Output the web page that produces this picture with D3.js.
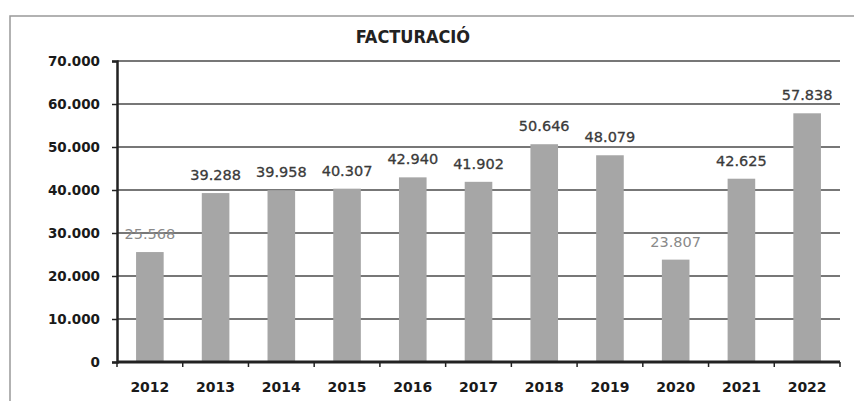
<!DOCTYPE html>
<html>
<head>
<meta charset="utf-8">
<script src="https://cdn.jsdelivr.net/npm/d3@7"></script>
<style>
  body { margin: 0; background: #fff; }
  svg { display: block; }
</style>
</head>
<body>
<svg class="chart" width="854" height="401"></svg>
<script>
const years = ['2012', '2013', '2014', '2015', '2016', '2017', '2018', '2019', '2020', '2021', '2022'];
const billing = [25568, 39288, 39958, 40307, 42940, 41902, 50646, 48079, 23807, 42625, 57838];
const yTicks = [0, 10000, 20000, 30000, 40000, 50000, 60000, 70000];
const chartTitle = 'FACTURACIÓ';
const lightLabels = ['2012', '2020'];

const svg = d3.select('.chart');
const plotLeft = 117, plotRight = 840, plotTop = 61, plotBottom = 362;

const fmt = d => d3.format(',')(d).replace(/,/g, '.');

const x = d3.scaleBand()
    .domain(years)
    .range([plotLeft, plotRight])
    .paddingInner(0.58)
    .paddingOuter(0.29);

const y = d3.scaleLinear()
    .domain([0, 70000])
    .range([plotBottom, plotTop]);

// outer frame (scanned border)
svg.append('path')
    .attr('d', `M10,401 L10,16 L854,16`)
    .attr('fill', 'none')
    .attr('stroke', '#999')
    .attr('stroke-width', 1.5);

svg.append('text')
    .attr('x', 413)
    .attr('y', 43)
    .attr('text-anchor', 'middle')
    .attr('font-family', 'DejaVu Sans Condensed, DejaVu Sans')
    .attr('font-weight', 'bold')
    .attr('font-size', 18)
    .attr('fill', '#222')
    .text(chartTitle);

// gridlines
svg.append('g')
    .selectAll('line')
    .data(yTicks.filter(d => d > 0))
    .enter().append('line')
    .attr('x1', plotLeft)
    .attr('x2', plotRight)
    .attr('y1', d => y(d))
    .attr('y2', d => y(d))
    .attr('stroke', '#4a4a4a')
    .attr('stroke-width', 1.4);

// bars
svg.append('g')
    .selectAll('rect')
    .data(billing)
    .enter().append('rect')
    .attr('x', (d, i) => x(years[i]))
    .attr('y', d => y(d))
    .attr('width', x.bandwidth())
    .attr('height', d => y(0) - y(d))
    .attr('fill', '#a6a6a6');

// value labels
svg.append('g')
    .selectAll('text')
    .data(billing)
    .enter().append('text')
    .attr('x', (d, i) => x(years[i]) + x.bandwidth() / 2)
    .attr('y', d => y(d) - 13)
    .attr('text-anchor', 'middle')
    .attr('font-family', 'DejaVu Sans')
    .attr('font-size', 14.5)
    .attr('fill', (d, i) => lightLabels.includes(years[i]) ? '#8a8a8a' : '#3a3a3a')
    .attr('stroke', (d, i) => lightLabels.includes(years[i]) ? 'none' : '#3a3a3a')
    .attr('stroke-width', 0.3)
    .text(d => fmt(d));

// y axis
const yAxis = svg.append('g')
    .attr('transform', `translate(${plotLeft},0)`)
    .call(d3.axisLeft(y).tickValues(yTicks).tickSize(5).tickPadding(12).tickFormat(fmt));
yAxis.select('.domain').attr('stroke', '#222').attr('stroke-width', 2.5);
yAxis.selectAll('line').attr('stroke', '#222').attr('stroke-width', 1.5);
yAxis.selectAll('text')
    .attr('font-family', 'DejaVu Sans')
    .attr('font-weight', 'bold')
    .attr('font-size', 13.5)
    .attr('fill', '#1a1a1a');

// x axis, ticks on category boundaries
const xAxis = svg.append('g')
    .attr('transform', `translate(0,${plotBottom})`);
xAxis.append('line')
    .attr('x1', plotLeft)
    .attr('x2', plotRight)
    .attr('stroke', '#222')
    .attr('stroke-width', 3);
xAxis.selectAll('.tick')
    .data(years)
    .enter().append('line')
    .attr('class', 'tick')
    .attr('x1', d => x(d) - x.step() * x.paddingInner() / 2)
    .attr('x2', d => x(d) - x.step() * x.paddingInner() / 2)
    .attr('y1', 0)
    .attr('y2', 5)
    .attr('stroke', '#222')
    .attr('stroke-width', 1.5);
xAxis.append('line')
    .attr('x1', plotRight).attr('x2', plotRight)
    .attr('y1', 0).attr('y2', 5)
    .attr('stroke', '#222')
    .attr('stroke-width', 1.5);
xAxis.selectAll('.label')
    .data(years)
    .enter().append('text')
    .attr('class', 'label')
    .attr('x', d => x(d) + x.bandwidth() / 2)
    .attr('y', 30)
    .attr('text-anchor', 'middle')
    .attr('font-family', 'DejaVu Sans')
    .attr('font-weight', 'bold')
    .attr('font-size', 14)
    .attr('fill', '#1a1a1a')
    .text(d => d);
</script>
</body>
</html>
